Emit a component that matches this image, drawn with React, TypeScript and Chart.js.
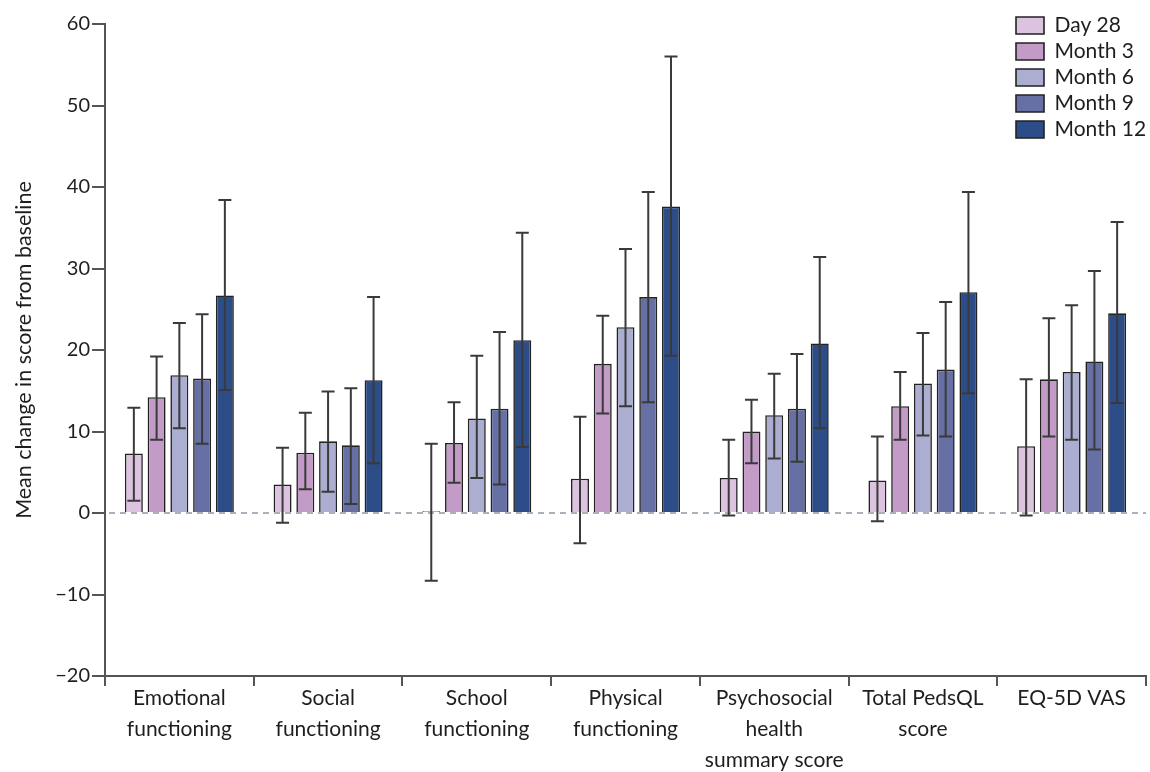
import React, { useEffect, useRef } from "react";
import { Chart, registerables } from "chart.js";

Chart.register(...registerables);

const categories: (string | string[])[] = [
  ["Emotional", "functioning"],
  ["Social", "functioning"],
  ["School", "functioning"],
  ["Physical", "functioning"],
  ["Psychosocial", "health", "summary score"],
  ["Total PedsQL", "score"],
  "EQ-5D VAS",
];

const seriesNames = ["Day 28", "Month 3", "Month 6", "Month 9", "Month 12"];
const seriesColors = ["#dcc3df", "#c39bc7", "#abaed1", "#6770a5", "#2c4d88"];

const day28 = [7.3, 3.5, 0.2, 4.2, 4.3, 4.0, 8.2];
const day28Lo = [1.5, -1.2, -8.3, -3.7, -0.3, -1.0, -0.3];
const day28Hi = [12.9, 8.0, 8.5, 11.8, 9.0, 9.4, 16.4];

const month3 = [14.2, 7.4, 8.6, 18.3, 10.0, 13.1, 16.4];
const month3Lo = [9.0, 2.9, 3.7, 12.2, 6.1, 9.0, 9.4];
const month3Hi = [19.2, 12.3, 13.6, 24.2, 13.9, 17.3, 23.9];

const month6 = [16.9, 8.8, 11.6, 22.8, 12.0, 15.9, 17.3];
const month6Lo = [10.4, 2.6, 4.3, 13.1, 6.7, 9.5, 9.0];
const month6Hi = [23.3, 14.9, 19.3, 32.4, 17.1, 22.1, 25.5];

const month9 = [16.5, 8.3, 12.8, 26.5, 12.8, 17.6, 18.6];
const month9Lo = [8.5, 1.1, 3.5, 13.6, 6.3, 9.4, 7.8];
const month9Hi = [24.4, 15.3, 22.2, 39.4, 19.5, 25.9, 29.7];

const month12 = [26.7, 16.3, 21.2, 37.6, 20.8, 27.1, 24.5];
const month12Lo = [15.1, 6.1, 8.1, 19.3, 10.4, 14.7, 13.5];
const month12Hi = [38.4, 26.5, 34.4, 56.0, 31.4, 39.4, 35.7];

const seriesValues = [day28, month3, month6, month9, month12];
const seriesLo = [day28Lo, month3Lo, month6Lo, month9Lo, month12Lo];
const seriesHi = [day28Hi, month3Hi, month6Hi, month9Hi, month12Hi];

const FONT = "Lato, 'Open Sans', sans-serif";

const errorBarPlugin = {
  id: "errorBars",
  afterDatasetsDraw(chart: any) {
    const ctx = chart.ctx;
    const yScale = chart.scales.y;
    const area = chart.chartArea;
    const y0 = yScale.getPixelForValue(0);
    ctx.save();
    ctx.strokeStyle = "#8e9aa6";
    ctx.lineWidth = 1.6;
    ctx.setLineDash([6, 5]);
    ctx.beginPath();
    ctx.moveTo(area.left + 4, y0);
    ctx.lineTo(area.right, y0);
    ctx.stroke();
    ctx.restore();

    ctx.save();
    ctx.strokeStyle = "#3a3a3a";
    ctx.lineWidth = 2;
    chart.data.datasets.forEach((ds: any, i: number) => {
      const meta = chart.getDatasetMeta(i);
      if (meta.hidden) return;
      meta.data.forEach((el: any, j: number) => {
        const x = el.x;
        const yl = yScale.getPixelForValue(seriesLo[i][j]);
        const yh = yScale.getPixelForValue(seriesHi[i][j]);
        const cap = 6.5;
        ctx.beginPath();
        ctx.moveTo(x, yl);
        ctx.lineTo(x, yh);
        ctx.moveTo(x - cap, yl);
        ctx.lineTo(x + cap, yl);
        ctx.moveTo(x - cap, yh);
        ctx.lineTo(x + cap, yh);
        ctx.stroke();
      });
    });
    ctx.restore();
  },
};

const legendPlacePlugin = {
  id: "legendPlace",
  afterLayout(chart: any) {
    const lg = chart.legend;
    if (!lg) return;
    const w = lg.width;
    lg.left = 1011;
    lg.right = lg.left + w;
    lg.top = 10;
  },
};

export default function App() {
  const ref = useRef<HTMLCanvasElement | null>(null);

  useEffect(() => {
    if (!ref.current) return;
    const chart = new Chart(ref.current, {
      type: "bar",
      data: {
        labels: categories,
        datasets: seriesNames.map((name, i) => ({
          label: name,
          data: seriesValues[i],
          backgroundColor: seriesColors[i],
          borderColor: "#222222",
          borderWidth: 1.6,
          categoryPercentage: 0.765,
          barPercentage: 0.79,
        })),
      },
      options: {
        animation: false,
        responsive: false,
        layout: { padding: { top: 24, right: 4, left: 0, bottom: 0 } },
        plugins: {
          tooltip: { enabled: false },
          legend: {
            position: "chartArea",
            align: "start",
            labels: {
              boxWidth: 28,
              boxHeight: 17,
              padding: 5,
              color: "#1e1e1e",
              font: { family: FONT, size: 21 },
            },
          },
        },
        scales: {
          x: {
            afterFit: (s: any) => {
              s.height = 96;
            },
            grid: {
              display: true,
              drawOnChartArea: false,
              drawTicks: true,
              tickLength: 10,
              color: "#555",
              lineWidth: 2,
              offset: true,
            },
            border: { display: true, color: "#555", width: 2 },
            ticks: {
              color: "#1e1e1e",
              padding: -3,
              maxRotation: 0,
              autoSkip: false,
              font: { family: FONT, size: 21, lineHeight: 1.48 },
            },
          },
          y: {
            min: -20,
            max: 60,
            afterFit: (s: any) => {
              s.width = 105;
            },
            ticks: {
              stepSize: 10,
              color: "#1e1e1e",
              padding: 2,
              font: { family: FONT, size: 20 },
              callback: (v: any) => (Number(v) < 0 ? "\u2212" + Math.abs(Number(v)) : String(v)),
            },
            grid: {
              display: true,
              drawOnChartArea: false,
              drawTicks: true,
              tickLength: 13,
              color: "#555",
              lineWidth: 2,
            },
            border: { display: true, color: "#555", width: 2 },
            title: {
              display: true,
              text: "Mean change in score from baseline",
              color: "#1e1e1e",
              font: { family: FONT, size: 21.5 },
              padding: { top: 11, bottom: 0 },
            },
          },
        },
      },
      plugins: [errorBarPlugin, legendPlacePlugin],
    } as any);
    return () => chart.destroy();
  }, []);

  return (
    <div style={{ position: "fixed", left: 0, top: 0, width: 1150, height: 772, background: "#fff" }}>
      <canvas ref={ref} width={1150} height={772} style={{ display: "block" }} />
    </div>
  );
}
